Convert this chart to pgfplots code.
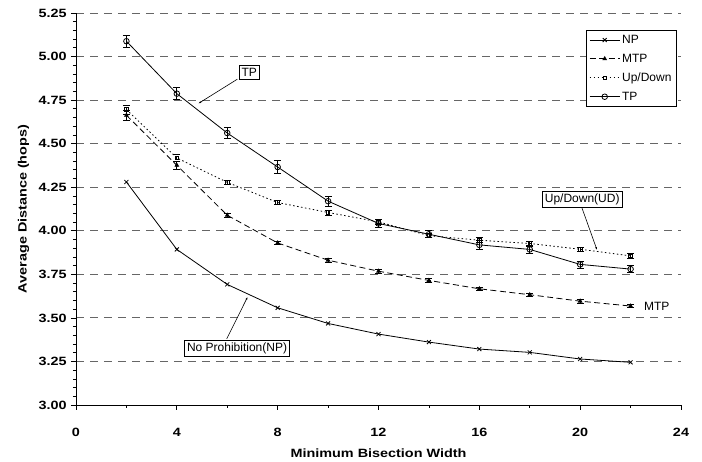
\documentclass[border=0pt]{standalone}
\usepackage{pgfplots}
\pgfplotsset{compat=1.18}
\usepackage{fontspec}
\setmainfont{Liberation Sans}
\usetikzlibrary{arrows.meta}

\begin{document}
\begin{tikzpicture}[x=1pt,y=1pt]
\useasboundingbox (-76,-57) rectangle (626,405);
\begin{axis}[
  at={(0,0)}, anchor=south west,
  scale only axis,
  width=605pt, height=392pt,
  xmin=0, xmax=24, ymin=3, ymax=5.25,
  xtick={0,4,...,24}, minor x tick num=1,
  ytick={3,3.25,...,5.25}, minor y tick num=4,
  axis lines=left, axis line style={-, line width=0.9pt},
  tick align=outside, tick style={black, line width=0.7pt},
  major tick length=5pt, minor tick length=3pt,
  ymajorgrids, grid style={dash pattern=on 8pt off 6pt, line width=0.9pt, draw=black!60},
  /pgf/number format/assume math mode=true,
  tick label style={font=\fontsize{12}{14}\selectfont\bfseries, xscale=1.2},
  xticklabel style={yshift=-15pt},
  yticklabel style={/pgf/number format/fixed, /pgf/number format/fixed zerofill,
                    /pgf/number format/precision=2},
  xlabel={Minimum Bisection Width},
  ylabel={Average Distance (hops)},
  label style={font=\fontsize{12}{14}\selectfont\bfseries},
  xlabel style={xscale=1.2, yshift=-5pt},
  ylabel style={xscale=1.2, yshift=2pt},
  legend cell align=left,
  legend style={at={(0.993,0.957)}, anchor=north east, draw=black, fill=white,
                line width=0.6pt,
                font=\fontsize{12}{14}\selectfont, row sep=5pt, inner sep=3pt},
  legend image code/.code={\draw[mark repeat=2, mark phase=2, #1]
     plot coordinates {(0pt,0pt) (15pt,0pt) (30pt,0pt)};},
  error bars/y dir=both, error bars/y explicit,
  error bars/error mark options={rotate=90, mark size=3.5pt, line width=0.7pt},
  error bars/error bar style={line width=0.7pt},
]
% NP
\addplot[black, line width=0.8pt, mark=x, mark size=2.8pt,
         error bars/y dir=none]
  coordinates {(2,4.280) (4,3.893) (6,3.692) (8,3.558) (10,3.468) (12,3.407)
               (14,3.361) (16,3.321) (18,3.302) (20,3.264) (22,3.245)};
\addlegendentry{NP}
% MTP
\addplot[black, line width=0.8pt, dash pattern=on 6pt off 3.5pt,
         mark=triangle*, mark size=2pt, mark options={solid}]
  coordinates {(2,4.663) +- (0,0.03) (4,4.376) +- (0,0.025) (6,4.089) +- (0,0.012)
               (8,3.930) +- (0,0.01) (10,3.831) +- (0,0.01) (12,3.768) +- (0,0.01)
               (14,3.715) +- (0,0.01) (16,3.667) +- (0,0.01) (18,3.633) +- (0,0.01)
               (20,3.596) +- (0,0.01) (22,3.568) +- (0,0.01)};
\addlegendentry{MTP}
% Up/Down
\addplot[black, line width=0.8pt, dash pattern=on 1.5pt off 2.5pt,
         mark=square, mark size=1.8pt, mark options={solid}]
  coordinates {(2,4.696) +- (0,0.025) (4,4.418) +- (0,0.02) (6,4.278) +- (0,0.012)
               (8,4.162) +- (0,0.012) (10,4.105) +- (0,0.015) (12,4.051) +- (0,0.015)
               (14,3.972) +- (0,0.012) (16,3.946) +- (0,0.015) (18,3.927) +- (0,0.015)
               (20,3.894) +- (0,0.012) (22,3.856) +- (0,0.012)};
\addlegendentry{Up/Down}
% TP
\addplot[black, line width=0.8pt, mark=o, mark size=2.8pt,
         mark options={fill=white}]
  coordinates {(2,5.088) +- (0,0.035) (4,4.787) +- (0,0.035) (6,4.561) +- (0,0.03)
               (8,4.366) +- (0,0.037) (10,4.170) +- (0,0.03) (12,4.042) +- (0,0.025)
               (14,3.980) +- (0,0.02) (16,3.919) +- (0,0.025) (18,3.893) +- (0,0.025)
               (20,3.807) +- (0,0.02) (22,3.780) +- (0,0.02)};
\addlegendentry{TP}

% annotations
\draw[line width=0.6pt, -{Latex[length=3pt,width=2pt]}]
  (axis cs:6.4,4.87) -- (axis cs:4.85,4.73);
\node[draw, fill=white, inner sep=2.5pt, line width=0.7pt,
      font=\fontsize{12}{14}\selectfont] at (axis cs:6.87,4.91) {TP};
\draw[line width=0.6pt, -{Latex[length=3pt,width=2pt]}]
  (axis cs:20.0,4.16) -- (axis cs:20.67,3.889);
\node[draw, fill=white, inner sep=2.5pt, line width=0.7pt,
      font=\fontsize{12}{14}\selectfont] at (axis cs:20.08,4.181) {Up/Down(UD)};
\draw[line width=0.6pt, -{Latex[length=3pt,width=2pt]}]
  (axis cs:5.98,3.38) -- (axis cs:6.81,3.621);
\node[draw, fill=white, inner sep=2.5pt, line width=0.7pt,
      font=\fontsize{12}{14}\selectfont] at (axis cs:6.39,3.327) {No Prohibition(NP)};
\node[font=\fontsize{12}{14}\selectfont] at (axis cs:23.04,3.564) {MTP};
\end{axis}
\end{tikzpicture}
\end{document}
